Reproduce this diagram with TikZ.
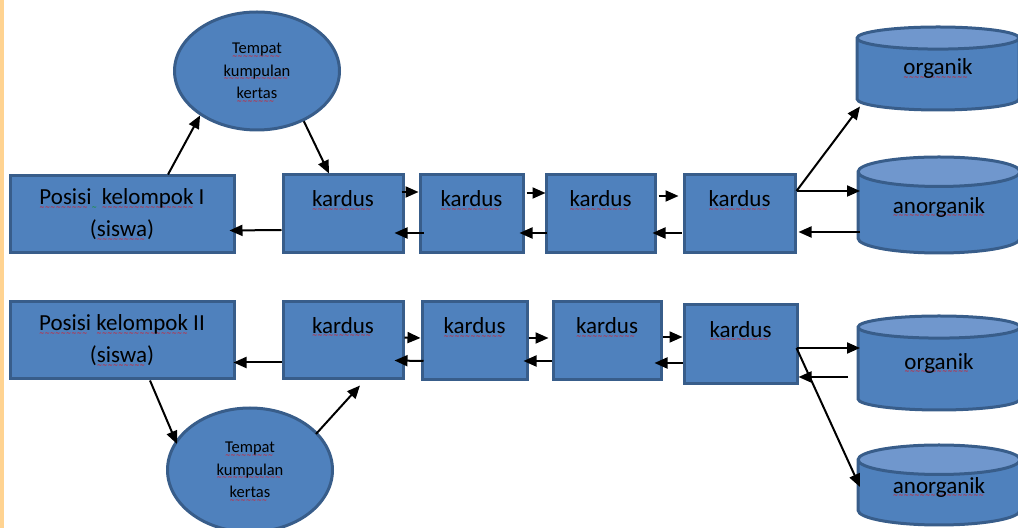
\documentclass[tikz,border=0pt]{standalone}
\usepackage{fontspec}
\setmainfont{Carlito}
\newfontfamily\wavefont{DejaVu Sans}
\usepackage{tikz}
\usetikzlibrary{arrows.meta,shapes.geometric,calc}
\definecolor{boxblue}{RGB}{79,129,189}
\definecolor{edgeblue}{RGB}{56,93,138}
\definecolor{capblue}{RGB}{112,151,205}
\definecolor{stripe}{RGB}{255,211,145}
\newcommand{\boxfont}{\fontsize{11.5}{16}\selectfont}
\newcommand{\ovalfont}{\fontsize{8.25}{11.25}\selectfont}
% spelling wave under a word
\newcommand{\wavecol}[2]{\setbox0\hbox{#2}\leavevmode\rlap{\raisebox{-2.2pt}[0pt][0pt]{\color{#1}\wavefont\fontsize{3.2}{3.2}\selectfont\leaders\hbox{\char"223C}\hskip\wd0}}#2}

\begin{document}
\begin{tikzpicture}[x=0.5pt,y=-0.5pt,
    posbox/.style={draw=edgeblue, fill=boxblue, line width=1.5pt, inner sep=0pt, minimum width=112pt, minimum height=38.5pt, align=center, font=\boxfont},
    kardbox/.style={draw=edgeblue, fill=boxblue, line width=1.5pt, inner sep=0pt, minimum height=39pt, text depth=15pt, font=\boxfont},
    heap/.style={ellipse, draw=edgeblue, fill=boxblue, line width=1.5pt, inner sep=0pt, minimum width=82.5pt, minimum height=59pt, align=center, font=\ovalfont},
    bin/.style={cylinder, shape border rotate=90, aspect=0.32, anchor=shape center, text depth=8pt, draw=edgeblue, line width=1.5pt, cylinder uses custom fill, cylinder body fill=boxblue, cylinder end fill=capblue, inner sep=0pt, minimum width=81pt, minimum height=41.5pt, font=\boxfont},
    arr/.style={-{Triangle[length=6.5pt,width=5.5pt]}, line width=1pt}]
    % Page
    \useasboundingbox (0,0) rectangle (1018,528);
    \fill[stripe] (0,0) rectangle (4,528);
    % Group I
    \node[posbox] (p1) at (122,214.5) {\wavecol{red}{Posisi}\wavecol{green!60!black}{\ \ }\wavecol{red}{kelompok} I\\(\wavecol{red}{siswa})};
    \node[heap] (e1) at (257,71) {\wavecol{red}{Tempat}\\\wavecol{red}{kumpulan}\\\wavecol{red}{kertas}};
    \node[kardbox, minimum width=60pt] (k1) at (343,214) {\wavecol{red}{kardus}};
    \node[kardbox, minimum width=51.5pt] (k2) at (471.5,214) {\wavecol{red}{kardus}};
    \node[kardbox, minimum width=54.5pt] (k3) at (600.5,214) {\wavecol{red}{kardus}};
    \node[kardbox, minimum width=55.5pt] (k4) at (739.5,214) {\wavecol{red}{kardus}};
    \node[bin] (org1) at (938,68.5) {\wavecol{red}{organik}};
    \node[bin, minimum height=48pt] (ano1) at (939,205) {\wavecol{red}{anorganik}};
    % Group II
    \node[posbox] (p2) at (122,340.5) {\wavecol{red}{Posisi} \wavecol{red}{kelompok} II\\(\wavecol{red}{siswa})};
    \node[heap, minimum height=62pt] (e2) at (250,470) {\wavecol{red}{Tempat}\\\wavecol{red}{kumpulan}\\\wavecol{red}{kertas}};
    \node[kardbox, minimum width=60pt, minimum height=38.5pt] (k5) at (343,340.5) {\wavecol{red}{kardus}};
    \node[kardbox, minimum width=52.5pt] (k6) at (474.5,341) {\wavecol{red}{kardus}};
    \node[kardbox, minimum width=54pt] (k7) at (607,341) {\wavecol{red}{kardus}};
    \node[kardbox, minimum width=56.5pt, minimum height=39.5pt] (k8) at (740.5,344.5) {\wavecol{red}{kardus}};
    \node[bin, minimum height=47pt] (org2) at (939,363) {\wavecol{red}{organik}};
    \node[bin, minimum height=40pt] (ano2) at (939,485) {\wavecol{red}{anorganik}};
    % Arrows - group I
    \draw[arr] ($(p1.north)+(46,0)$) -- (e1.218);
    \draw[arr] (e1.313) -- ($(k1.north)+(-14,0)$);
    \draw[arr] ($(k1.west)+(0,16)$) -- ($(p1.east)+(-6,16)$);
    \draw[arr] ($(k1.east)+(-3,-22)$) -- ($(k2.west)+(0,-22)$);
    \draw[arr] ($(k2.west)+(5,19)$) -- ($(k1.east)+(-10,19)$);
    \draw[arr] ($(k2.east)+(2,-21)$) -- ($(k3.west)+(1,-21)$);
    \draw[arr] ($(k3.west)+(2,19)$) -- ($(k2.east)+(-5,19)$);
    \draw[arr] ($(k3.east)+(2,-18)$) -- ($(k4.west)+(-4,-18)$);
    \draw[arr] ($(k4.west)+(-1,19)$) -- ($(k3.east)+(-4,19)$);
    \draw[arr] ($(k4.east)+(0,-23)$) -- ($(org1.shape center)+(-78,38)$);
    \draw[arr] ($(k4.east)+(0,-23)$) -- ($(ano1.shape center)+(-79,-14)$);
    \draw[arr] ($(ano1.shape center)+(-79,27)$) -- ($(k4.east)+(2,18)$);
    % Arrows - group II
    \draw[arr] ($(k5.west)+(0,22)$) -- ($(p2.east)+(-2,22)$);
    \draw[arr] ($(p2.south)+(28,0)$) -- ($(e2.center)+(-73,-26)$);
    \draw[arr] ($(e2.center)+(66,-36)$) -- ($(k5.south)+(17,5)$);
    \draw[arr] ($(k5.east)+(0,-3)$) -- ($(k6.west)+(0,-3)$);
    \draw[arr] ($(k6.west)+(3,20)$) -- ($(k5.east)+(-10,20)$);
    \draw[arr] ($(k6.east)+(0,-3)$) -- ($(k7.west)+(-3,-3)$);
    \draw[arr] ($(k7.west)+(0,20)$) -- ($(k6.east)+(-5,20)$);
    \draw[arr] ($(k7.east)+(0,-4)$) -- ($(k8.west)+(0,-7.5)$);
    \draw[arr] ($(k8.west)+(0,18.5)$) -- ($(k7.east)+(-8,22)$);
    \draw[arr] ($(k8.east)+(-2,3.5)$) -- ($(org2.shape center)+(-79,-15)$);
    \draw[arr] ($(org2.shape center)+(-91,14)$) -- ($(k8.east)+(0,32.5)$);
    \draw[arr] ($(k8.east)+(-2,3.5)$) -- ($(ano2.shape center)+(-79,2)$);
\end{tikzpicture}
\end{document}
